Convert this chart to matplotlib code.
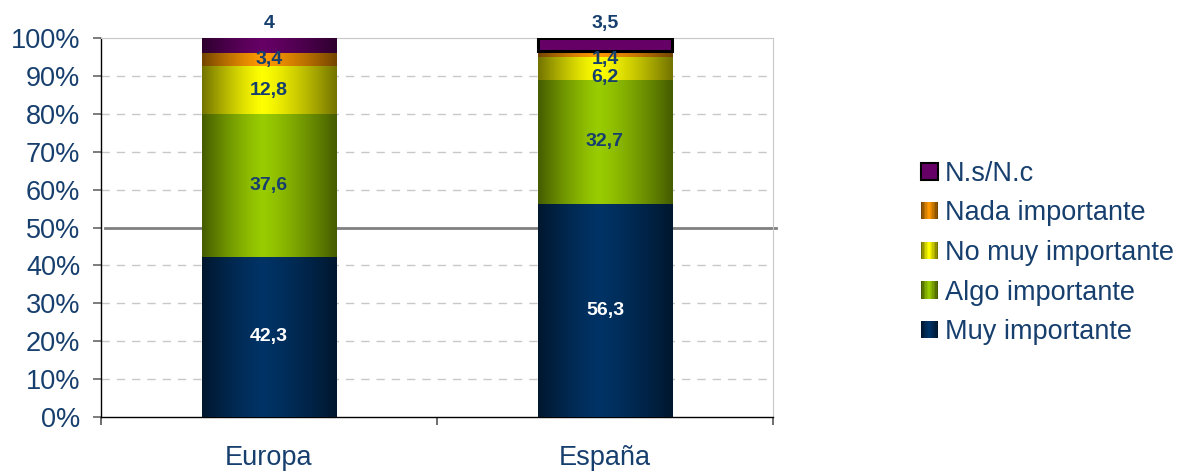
import matplotlib
matplotlib.use("Agg")
import matplotlib.pyplot as plt
import numpy as np
from matplotlib.colors import to_rgb
from matplotlib.patches import Rectangle
from matplotlib.legend_handler import HandlerBase

plt.rcParams['font.family'] = ['Liberation Sans', 'DejaVu Sans']

categories = ["Europa", "España"]
series_names = ["Muy importante", "Algo importante", "No muy importante",
                "Nada importante", "N.s/N.c"]
muy = [42.3, 56.3]
algo = [37.6, 32.7]
no_muy = [12.8, 6.2]
nada = [3.4, 1.4]
nsnc = [4.0, 3.5]
label_text = {
    "Muy importante": ["42,3", "56,3"],
    "Algo importante": ["37,6", "32,7"],
    "No muy importante": ["12,8", "6,2"],
    "Nada importante": ["3,4", "1,4"],
    "N.s/N.c": ["4", "3,5"],
}
colors = {
    "Muy importante": "#003366",
    "Algo importante": "#99CC00",
    "No muy importante": "#FFFF00",
    "Nada importante": "#FF9900",
    "N.s/N.c": "#660066",
}

TEXT_BLUE = "#173F6E"
BIG = 19.5
LAB = 14

values = np.array([muy, algo, no_muy, nada, nsnc], dtype=float)
totals = values.sum(axis=0)
pct = values / totals * 100

fig = plt.figure(figsize=(11.82, 4.72), dpi=100)
ax = fig.add_axes([101/1182, 1-417/472, 672/1182, 379/472])

x = np.arange(len(categories))
width = 0.4


def profile(n=200):
    t = np.linspace(0, 1, n)
    peak = 0.45
    d = np.where(t < peak, (peak - t) / peak, (t - peak) / (1 - peak))
    return 1.0 - 0.55 * d ** 1.3


def gradient_img(color, n=200):
    rgb = np.array(to_rgb(color))
    f = profile(n)[:, None]
    return (rgb[None, :] * f)[None, :, :]


bottom = np.zeros(len(categories))
for i, name in enumerate(series_names):
    bars = ax.bar(x, pct[i], width, bottom=bottom, color=colors[name],
                  linewidth=0, zorder=2)
    for j, b in enumerate(bars):
        x0, y0, w, h = b.get_x(), b.get_y(), b.get_width(), b.get_height()
        flat = (name == "N.s/N.c" and j == 1)
        if flat:
            b.set_edgecolor("black")
            b.set_linewidth(2.2)
            b.set_zorder(4)
        else:
            ax.imshow(gradient_img(colors[name]), extent=[x0, x0 + w, y0, y0 + h],
                      aspect='auto', zorder=3, interpolation='bilinear')
        txt = label_text[name][j]
        tc = "white" if name == "Muy importante" else TEXT_BLUE
        if name == "N.s/N.c":
            ax.annotate(txt, (x0 + w / 2, y0 + h), xytext=(0, 4),
                        textcoords='offset points', ha='center', va='bottom',
                        fontsize=LAB, fontweight='bold', color=tc, zorder=6,
                        annotation_clip=False)
        else:
            # thin segments: labels nudged down so they do not collide
            dy = 0
            if j == 1 and h < 8:
                dy = -4 if h < 3 else -6.5
            ax.annotate(txt, (x0 + w / 2, y0 + h / 2), xytext=(0, dy),
                        textcoords='offset points', ha='center', va='center',
                        fontsize=LAB, fontweight='bold', color=tc, zorder=6)
    bottom += pct[i]

ax.set_xlim(-0.5, 1.5)
ax.set_ylim(0, 100)

yt = np.arange(0, 101, 10)
ax.set_yticks(yt)
ax.set_yticklabels([f"{v}%" for v in yt])
for v in yt:
    if v in (0, 50, 100):
        continue
    ax.axhline(v, color="#C8C8C8", lw=1, ls=(0, (6, 5)), zorder=1)
ax.axhline(100, color="#C8C8C8", lw=1.5, zorder=1)
ax.axhline(50, xmin=0.006, xmax=1.005, color="#808080", lw=2, zorder=1.5,
           clip_on=False)

ax.set_xticks(x)
ax.set_xticklabels(categories)
ax.set_xticks([-0.5, 0.5, 1.5], minor=True)
ax.tick_params(axis='x', which='major', length=0, pad=20.5, labelsize=BIG,
               labelcolor=TEXT_BLUE)
ax.tick_params(axis='x', which='minor', length=6, width=1.2, color="#555555",
               direction='out')
ax.tick_params(axis='y', length=6, width=1.2, color="#666666", pad=9,
               labelsize=BIG, labelcolor=TEXT_BLUE)

ax.spines['left'].set_color('black')
ax.spines['bottom'].set_color('black')
ax.spines['left'].set_linewidth(1)
ax.spines['bottom'].set_linewidth(1)
ax.spines['top'].set_color('#C8C8C8')
ax.spines['right'].set_color('#C8C8C8')


class GradientHandler(HandlerBase):
    def __init__(self, color, outline=False):
        super().__init__()
        self.color = color
        self.outline = outline

    def create_artists(self, legend, orig_handle, xdescent, ydescent, width,
                       height, fontsize, trans):
        arts = []
        size = min(width, height)
        x0 = -xdescent
        y0 = -ydescent + (height - size) / 2
        n = 12
        prof = profile(n)
        rgb = np.array(to_rgb(self.color))
        if self.outline:
            r = Rectangle((x0, y0), size, size, facecolor=self.color,
                          edgecolor='black', lw=1.5, transform=trans)
            return [r]
        for k in range(n):
            r = Rectangle((x0 + k * size / n, y0), size / n + 0.3, size,
                          facecolor=tuple(rgb * prof[k]), edgecolor='none',
                          transform=trans)
            arts.append(r)
        return arts


handles = []
hmap = {}
for name in reversed(series_names):
    h = Rectangle((0, 0), 1, 1, facecolor=colors[name])
    handles.append(h)
    hmap[h] = GradientHandler(colors[name], outline=(name == "N.s/N.c"))

leg = fig.legend(handles, list(reversed(series_names)), handler_map=hmap,
                 loc='center left', bbox_to_anchor=(921/1182, 1 - 253/472),
                 frameon=False, fontsize=BIG, handlelength=0.63,
                 handleheight=0.63, handletextpad=0.26, labelspacing=0.5,
                 borderpad=0, borderaxespad=0)
for t in leg.get_texts():
    t.set_color(TEXT_BLUE)

fig.savefig("out.png", dpi=100)
